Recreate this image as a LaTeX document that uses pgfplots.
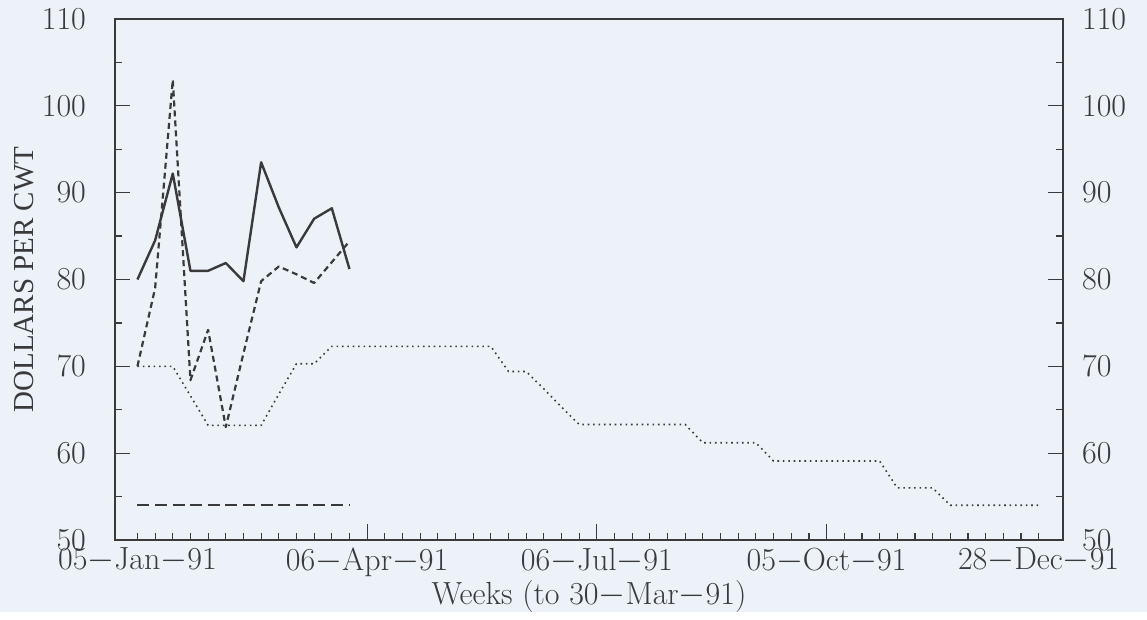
\documentclass[border=0pt]{standalone}
\usepackage{fontspec}
\newfontfamily\timesfont{Liberation Serif}
\usepackage{pgfplots}
\usepackage{pgfplotstable}
\pgfplotsset{compat=1.18}
\definecolor{bg}{HTML}{EDF2F9}
\definecolor{ink}{HTML}{3A3A3A}

% weekly prices, week 0 = 05-Jan-91
\pgfplotstableread{
w v
0 80.0
1 84.5
2 92.2
3 81.0
4 81.0
5 81.9
6 79.8
7 93.5
8 88.3
9 83.7
10 87.0
11 88.2
12 81.2
}\solidtab

\pgfplotstableread{
w v
0 70.0
1 79.0
2 103.0
3 68.4
4 74.2
5 63.0
6 71.5
7 79.8
8 81.5
9 80.6
10 79.6
11 82.0
12 84.4
}\dashtab

\pgfplotstableread{
w v
0 54.0
12 54.0
}\longtab

\pgfplotstableread{
w v
0 70.0
1 70.0
2 70.0
3 66.6
4 63.2
5 63.2
6 63.2
7 63.2
8 66.8
9 70.3
10 70.3
11 72.3
12 72.3
13 72.3
14 72.3
15 72.3
16 72.3
17 72.3
18 72.3
19 72.3
20 72.3
21 69.4
22 69.4
23 67.4
24 65.3
25 63.3
26 63.3
27 63.3
28 63.3
29 63.3
30 63.3
31 63.3
32 61.2
33 61.2
34 61.2
35 61.2
36 59.1
37 59.1
38 59.1
39 59.1
40 59.1
41 59.1
42 59.1
43 56.0
44 56.0
45 56.0
46 54.0
47 54.0
48 54.0
49 54.0
50 54.0
51 54.0
}\dottab

\begin{document}
\begin{tikzpicture}[x=1pt,y=1pt]
\fill[bg] (0,0) rectangle (573.5,306);
\begin{axis}[
  at={(57.5pt,36pt)}, anchor=south west,
  scale only axis, width=474pt, height=260.5pt,
  xmin=-1.27, xmax=52.38, ymin=50, ymax=110,
  axis line style={ink, line width=0.8pt},
  tick align=inside,
  xtick={13,26,39},
  xticklabels={06$-$Apr$-$91,06$-$Jul$-$91,05$-$Oct$-$91},
  extra x ticks={0,51},
  extra x tick labels={05$-$Jan$-$91,28$-$Dec$-$91},
  extra x tick style={major tick length=0pt},
  minor xtick={0,...,51},
  xtick pos=left,
  ytick={50,60,70,80,90,100,110},
  yticklabels={50,60,70,80,90,100,110},
  minor ytick={55,65,75,85,95,105},
  ytick pos=both, yticklabel pos=left,
  major tick length=7.75pt, minor tick length=3.5pt,
  tick style={ink, line width=0.6pt},
  xticklabel style={font=\fontsize{16}{16}\selectfont, text=ink, yshift=-0.5pt},
  yticklabel style={font=\fontsize{16}{16}\selectfont, text=ink, xshift=-11pt},
  xlabel={Weeks (to 30$-$Mar$-$91)},
  xlabel style={font=\fontsize{16}{16}\selectfont, text=ink, yshift=5pt},
  ylabel={DOLLARS PER CWT},
  ylabel style={font=\timesfont\fontsize{14.5}{14.5}\selectfont, text=ink, yshift=-3pt},
  clip=false,
]
\addplot[ink, line width=1.2pt, line join=round] table[x=w, y=v] {\solidtab};
\addplot[ink, line width=1.1pt, line join=round, dash pattern=on 3pt off 2pt] table[x=w, y=v] {\dashtab};
\addplot[ink, line width=0.8pt, dash pattern=on 6pt off 2.8pt] table[x=w, y=v] {\longtab};
\addplot[ink, line width=0.8pt, dash pattern=on 0.8pt off 1.9pt] table[x=w, y=v] {\dottab};
\end{axis}
\begin{axis}[
  at={(57.5pt,36pt)}, anchor=south west,
  scale only axis, width=474pt, height=260.5pt,
  xmin=-1.27, xmax=52.38, ymin=50, ymax=110,
  hide x axis, axis y line*=right,
  axis line style={draw=none},
  ytick={50,60,70,80,90,100,110},
  yticklabels={50,60,70,80,90,100,110},
  ytick style={draw=none},
  yticklabel style={font=\fontsize{16}{16}\selectfont, text=ink, xshift=6pt},
]
\end{axis}
\end{tikzpicture}
\end{document}
